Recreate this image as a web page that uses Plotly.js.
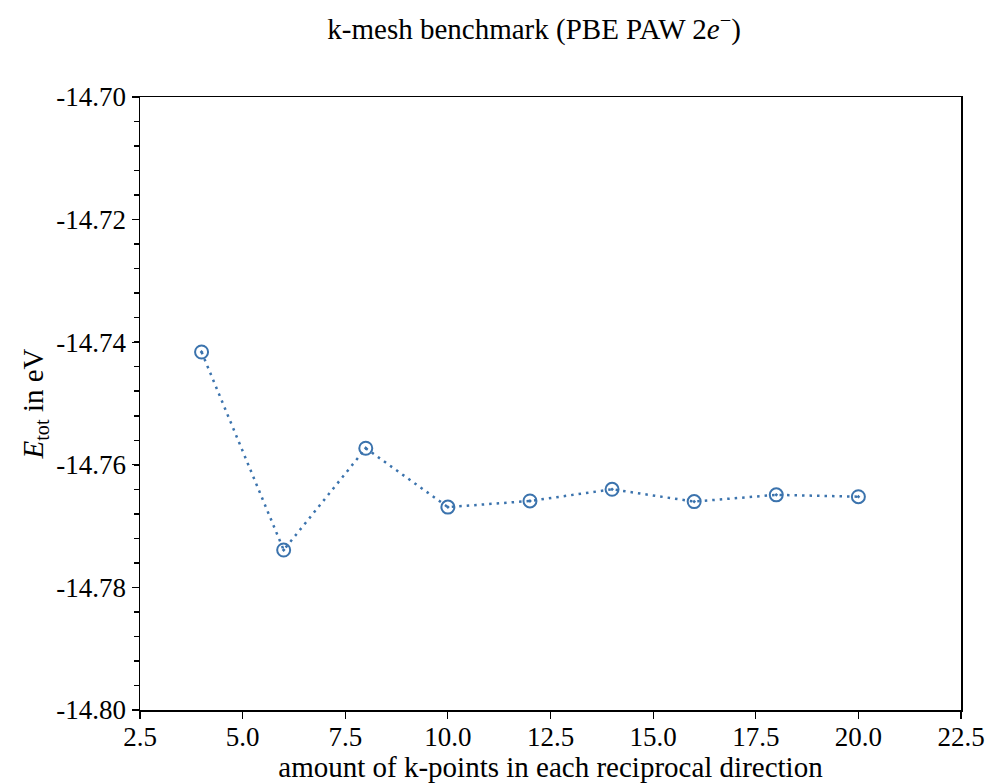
<!DOCTYPE html>
<html>
<head>
<meta charset="utf-8">
<script src="https://cdn.plot.ly/plotly-3.0.1.min.js"></script>
<style>html,body{margin:0;padding:0;background:#fff;}#chart{width:990px;height:783px;}</style>
</head>
<body>
<div id="chart"></div>
<script>
// k-points per reciprocal direction
const kpoints = [4, 6, 8, 10, 12, 14, 16, 18, 20];
// total energy in eV
const energy = [-14.7416, -14.7739, -14.7573, -14.7669, -14.7659, -14.7640, -14.7660, -14.7649, -14.7652];
// axis ticks
const yTickVals = [-14.80, -14.78, -14.76, -14.74, -14.72, -14.70];
const yTickText = ['-14.80', '-14.78', '-14.76', '-14.74', '-14.72', '-14.70'];
const xTickVals = [2.5, 5.0, 7.5, 10.0, 12.5, 15.0, 17.5, 20.0, 22.5];
const xTickText = ['2.5', '5.0', '7.5', '10.0', '12.5', '15.0', '17.5', '20.0', '22.5'];

const color = '#3b73ad';
const family = 'Liberation Serif, serif';
const tickFont = {family: family, size: 27, color: '#000'};
const titleFont = {family: family, size: 29, color: '#000'};

const trace = {
  x: kpoints, y: energy, type: 'scatter', mode: 'lines+markers',
  line: {color: color, width: 2.5, dash: '2.5px,5px'},
  marker: {symbol: 'circle-open-dot', size: 13, color: color, line: {width: 2, color: color}},
  showlegend: false
};

const layout = {
  width: 990, height: 783,
  margin: {l: 140, r: 29, t: 97, b: 73},
  paper_bgcolor: '#fff', plot_bgcolor: '#fff',
  font: tickFont,
  title: {text: 'k-mesh benchmark (PBE PAW 2<i>e</i><sup>−</sup>)', xref: 'paper', x: 0.48, xanchor: 'center', y: 0.963, yanchor: 'middle', font: titleFont},
  xaxis: {
    range: [2.5, 22.5], tickmode: 'array', tickvals: xTickVals, ticktext: xTickText,
    showgrid: false, zeroline: false, showline: true, mirror: true, linecolor: '#000', linewidth: 1.5,
    ticks: 'outside', ticklen: 7, tickwidth: 1.2, tickcolor: '#000', tickfont: tickFont, ticklabelstandoff: -5,
    title: {text: 'amount of k-points in each reciprocal direction', font: titleFont, standoff: 2}
  },
  yaxis: {
    range: [-14.80, -14.70], tickmode: 'array', tickvals: yTickVals, ticktext: yTickText,
    showgrid: false, zeroline: false, showline: true, mirror: true, linecolor: '#000', linewidth: 1.5,
    ticks: 'outside', ticklen: 7, tickwidth: 1.2, tickcolor: '#000', tickfont: tickFont,
    minor: {tickmode: 'linear', tick0: -14.80, dtick: 0.004, ticks: 'outside', ticklen: 5, tickwidth: 1.5, tickcolor: '#000', showgrid: false},
    title: {text: '<i>E</i><sub>tot</sub> in eV', font: titleFont, standoff: 4}
  }
};

Plotly.newPlot('chart', [trace], layout, {displayModeBar: false, staticPlot: true});
</script>
</body>
</html>
